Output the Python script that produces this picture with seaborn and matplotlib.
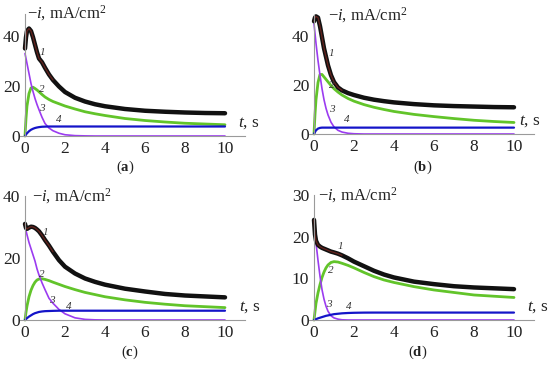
import matplotlib
matplotlib.use("Agg")
import matplotlib.pyplot as plt
import seaborn as sns

# time grid (s)
t = [0, 0.05, 0.1, 0.2, 0.3, 0.4, 0.5, 0.6, 0.7, 0.85, 1.0, 1.2, 1.4, 1.7,
     2.0, 2.5, 3.0, 3.5, 4.0, 5.0, 6.0, 7.0, 8.0, 9.0, 10.0]

# panel (a)
a1 = [35, 39.5, 42, 43, 42, 39.5, 36.5, 33.5, 31, 29.5, 27.3, 24.6, 22.4, 19.8,
      17.6, 15.3, 13.8, 12.7, 11.9, 10.8, 10.1, 9.7, 9.4, 9.2, 9.1]
a2 = [0, 7, 12, 17, 19.2, 19.5, 19, 18.4, 17.7, 16.6, 15.6, 14.6, 13.8, 12.9,
      12, 10.8, 9.7, 8.9, 8.2, 7.0, 6.2, 5.6, 5.1, 4.8, 4.5]
a3 = [33, 31, 29, 25, 21, 17.8, 15, 12.6, 10.5, 7.5, 5.0, 3.2, 2.1, 1.1,
      0.5, 0.15, 0.05, 0, 0, 0, 0, 0, 0, 0, 0]
a4 = [0, 0.6, 1.1, 1.9, 2.5, 2.9, 3.2, 3.4, 3.55, 3.7, 3.75, 3.8, 3.8, 3.8,
      3.8, 3.8, 3.8, 3.8, 3.8, 3.8, 3.8, 3.8, 3.8, 3.8, 3.8]

# panel (b)
b1 = [46, 47.5, 48, 47.5, 44, 39.5, 35, 31.5, 28, 24, 21.2, 19, 17.8, 16.7,
      15.9, 14.8, 14, 13.4, 12.9, 12.2, 11.7, 11.4, 11.2, 11.0, 10.9]
b2 = [0, 8, 14, 21, 24.3, 24.3, 23.3, 22.3, 21.3, 19.8, 18.5, 17.1, 15.9, 14.5,
      13.4, 12, 10.9, 10, 9.2, 8.0, 7.1, 6.3, 5.6, 5.1, 4.7]
b3 = [45, 41, 37, 30, 24, 18.5, 14, 10.5, 7.8, 4.8, 2.9, 1.5, 0.8, 0.3,
      0.1, 0, 0, 0, 0, 0, 0, 0, 0, 0, 0]
b4 = [0, 0.8, 1.5, 2.2, 2.5, 2.6, 2.6, 2.6, 2.6, 2.6, 2.6, 2.6, 2.6, 2.6,
      2.6, 2.6, 2.6, 2.6, 2.6, 2.6, 2.6, 2.6, 2.6, 2.6, 2.6]

# panel (c)
c1 = [31, 29.7, 29.4, 29.8, 30.1, 30, 29.7, 29.2, 28.6, 27.3, 25.8, 24.0, 22.0, 19.3,
      17.2, 15.0, 13.4, 12.3, 11.4, 10.1, 9.2, 8.4, 7.9, 7.6, 7.3]
c2 = [0, 2.5, 4.5, 7.5, 9.6, 11.1, 12.2, 12.9, 13.2, 13.3, 13.1, 12.7, 12.2, 11.5,
      10.8, 9.8, 8.9, 8.2, 7.5, 6.5, 5.7, 5.1, 4.6, 4.3, 4.0]
c3 = [30, 28.8, 27.5, 25, 23, 21, 19, 16.5, 14.5, 12, 9.8, 7.0, 5.4, 3.4,
      2.0, 0.7, 0.2, 0.05, 0, 0, 0, 0, 0, 0, 0]
c4 = [0, 0.3, 0.6, 1.1, 1.5, 1.9, 2.2, 2.4, 2.6, 2.75, 2.85, 2.9, 2.95, 3.0,
      3.0, 3.0, 3.0, 3.0, 3.0, 3.0, 3.0, 3.0, 3.0, 3.0, 3.0]

# panel (d)
d1 = [24, 20.5, 19, 18, 17.6, 17.3, 17.1, 16.9, 16.7, 16.4, 16.2, 15.9, 15.5, 14.8,
      14, 12.9, 11.8, 10.9, 10.2, 9.2, 8.6, 8.1, 7.8, 7.6, 7.4]
d2 = [0, 2, 4, 6.5, 8.5, 10.2, 11.5, 12.5, 13.2, 13.8, 14.0, 13.9, 13.6, 13.1,
      12.5, 11.4, 10.4, 9.6, 9.0, 8.0, 7.2, 6.6, 6.0, 5.7, 5.4]
d3 = [23.5, 21, 18.5, 14.3, 10.5, 7.3, 5, 3.3, 2.1, 1.0, 0.5, 0.2, 0.05, 0,
      0, 0, 0, 0, 0, 0, 0, 0, 0, 0, 0]
d4 = [0, 0.1, 0.2, 0.4, 0.55, 0.7, 0.85, 1.0, 1.1, 1.25, 1.4, 1.5, 1.6, 1.68,
      1.73, 1.77, 1.78, 1.78, 1.78, 1.78, 1.78, 1.78, 1.78, 1.78, 1.78]

x_ticks = [0, 2, 4, 6, 8, 10]
curve_names = ["1", "2", "3", "4"]
panel_tags = ["a", "b", "c", "d"]

sns.set_theme(style="white")
plt.rcParams["font.family"] = ["Liberation Serif", "DejaVu Serif"]
plt.rcParams["mathtext.fontset"] = "custom"
plt.rcParams["mathtext.it"] = "Liberation Serif:italic"
plt.rcParams["mathtext.rm"] = "Liberation Serif"
plt.rcParams["mathtext.bf"] = "Liberation Serif:bold"

W, H = 550, 367
fig = plt.figure(figsize=(5.5, 3.67), dpi=100)

panels = [
    dict(data=(a1, a2, a3, a4), x0=25, y0=136, ppu=2.5, top=49, yt=[0, 20, 40],
         ylab_x=0.1, ts_x=10.65,
         lab=[(0.88, 33.3), (0.85, 18.7), (0.83, 11), (1.67, 6.4)], tag=(125, 167)),
    dict(data=(b1, b2, b3, b4), x0=314, y0=134, ppu=2.45, top=48.6, yt=[0, 20, 40],
         ylab_x=0.7, ts_x=10.25,
         lab=[(0.88, 33), (0.9, 19.6), (0.88, 10), (1.63, 6)], tag=(423, 167)),
    dict(data=(c1, c2, c3, c4), x0=25, y0=320, ppu=3.1, top=40, yt=[0, 20, 40],
         ylab_x=0.35, ts_x=10.7,
         lab=[(1.0, 28.3), (0.83, 14.7), (1.33, 6.4), (2.2, 4.5)], tag=(130, 352)),
    dict(data=(d1, d2, d3, d4), x0=314, y0=320, ppu=4.17, top=30, yt=[0, 10, 20, 30],
         ylab_x=0.2, ts_x=10.65,
         lab=[(1.33, 17.6), (0.85, 11.8), (0.72, 3.8), (1.72, 3.2)], tag=(418, 352)),
]

colors = ["#111111", "#62c42a", "#9b3bf0", "#1414c8"]
widths = [3.2, 2.0, 1.2, 1.6]
xmin, xmax = -0.25, 11.0
ppx = 20.0

for p, tag in zip(panels, panel_tags):
    left = (p["x0"] + xmin * ppx) / W
    width = (xmax - xmin) * ppx / W
    bottom = (H - p["y0"]) / H
    height = p["top"] * p["ppu"] / H
    ax = fig.add_axes([left, bottom, width, height])
    ax.set_facecolor("none")
    for k in [1, 2, 3, 0]:
        sns.lineplot(x=t, y=p["data"][k], ax=ax, color=colors[k], lw=widths[k],
                     estimator=None, sort=False, legend=False, clip_on=False)
    # faint brownish-red overlay on early part of curve 1
    sns.lineplot(x=t[:13], y=p["data"][0][:13], ax=ax, color="#8a2a22", lw=0.9,
                 alpha=0.7, estimator=None, sort=False, legend=False,
                 clip_on=False)
    ax.set_xlim(xmin, xmax)
    ax.set_ylim(0, p["top"])
    ax.set_xticks(x_ticks)
    ax.set_yticks(p["yt"])
    ax.set_xlabel("")
    ax.set_ylabel("")
    for s in ["top", "right"]:
        ax.spines[s].set_visible(False)
    ax.spines["left"].set_position(("data", 0))
    for s in ["left", "bottom"]:
        ax.spines[s].set_color("#9a9a9a")
        ax.spines[s].set_linewidth(0.8)
    ax.tick_params(direction="out", length=2.5, width=0.6, color="#9a9a9a",
                   labelsize=12.5, pad=1, labelcolor="#222222")
    ax.text(p["ylab_x"], p["top"], r"$-i$, mA/cm$^2$", ha="left", va="center",
            fontsize=12, color="#222222")
    ax.annotate(r"$t$, s", xy=(p["ts_x"], 0), xytext=(0, 13),
                textcoords="offset pixels", ha="left", va="center",
                fontsize=12.5, color="#222222")
    for name, (lx, ly) in zip(curve_names, p["lab"]):
        ax.text(lx, ly, name, fontsize=8, fontstyle="italic", color="#333333",
                ha="center", va="center")
    fig.text(p["tag"][0] / W, 1 - p["tag"][1] / H, r"($\mathbf{%s}$)" % tag,
             ha="center", va="center", fontsize=10.5, color="#222222")

fig.savefig("out.png", dpi=100)
